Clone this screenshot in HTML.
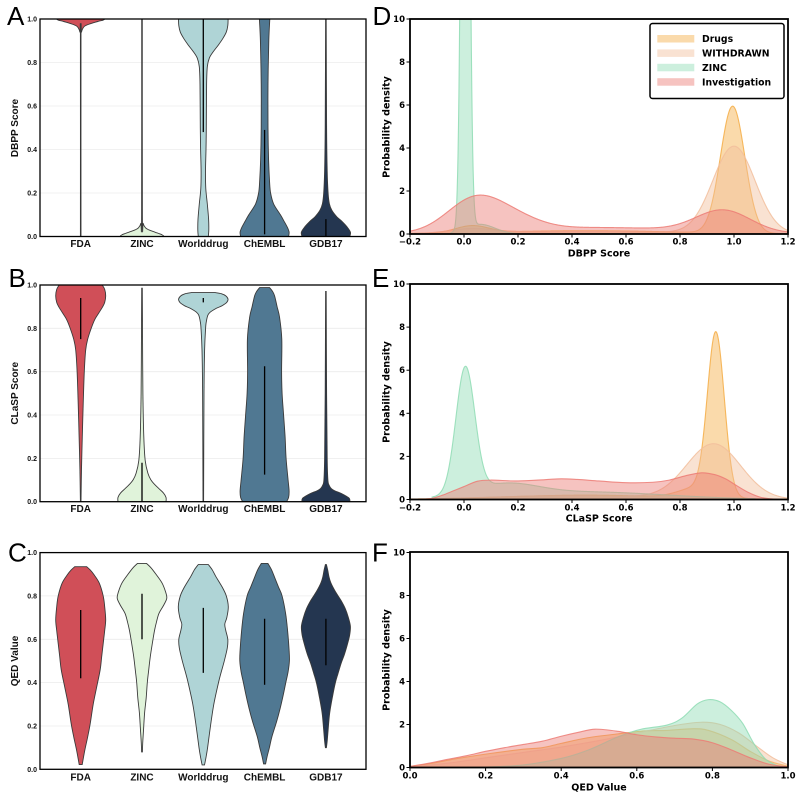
<!DOCTYPE html>
<html><head><meta charset="utf-8">
<style>
html,body{margin:0;padding:0;background:#fff;}
svg{display:block;}
.lt{font:bold 7px "Liberation Sans",Arial,sans-serif;fill:#111;}
.lx{font:bold 10px "Liberation Sans",Arial,sans-serif;fill:#111;}
.rt{font:bold 8.5px "DejaVu Sans",sans-serif;fill:#000;}
.rl{font:bold 9.5px "DejaVu Sans",sans-serif;fill:#000;}
.lg{font:bold 9.3px "DejaVu Sans",sans-serif;fill:#000;}
.let{font:26px "Liberation Sans",Arial,sans-serif;fill:#000;}
</style></head><body>
<svg id="s" width="799" height="798" viewBox="0 0 799 798" xmlns="http://www.w3.org/2000/svg">
<defs>
<clipPath id="cA"><rect x="40" y="19" width="326" height="217.5"/></clipPath>
<clipPath id="cB"><rect x="40" y="285" width="326" height="216.7"/></clipPath>
<clipPath id="cC"><rect x="40" y="552.6" width="326" height="216.7"/></clipPath>
<clipPath id="cD"><rect x="410" y="19" width="378" height="215"/></clipPath>
<clipPath id="cE"><rect x="410" y="284" width="378" height="215.5"/></clipPath>
<clipPath id="cF"><rect x="410" y="552" width="378" height="215.5"/></clipPath>
</defs>
<rect x="0" y="0" width="799" height="798" fill="#fff"/>
<g stroke="#ececec" stroke-width="0.8">
<line x1="40" x2="366" y1="193" y2="193"/><line x1="40" x2="366" y1="149.5" y2="149.5"/><line x1="40" x2="366" y1="106" y2="106"/><line x1="40" x2="366" y1="62.5" y2="62.5"/>
<line x1="40" x2="366" y1="458.4" y2="458.4"/><line x1="40" x2="366" y1="415" y2="415"/><line x1="40" x2="366" y1="371.7" y2="371.7"/><line x1="40" x2="366" y1="328.3" y2="328.3"/>
<line x1="40" x2="366" y1="726" y2="726"/><line x1="40" x2="366" y1="682.6" y2="682.6"/><line x1="40" x2="366" y1="639.3" y2="639.3"/><line x1="40" x2="366" y1="595.9" y2="595.9"/>
</g>
<g id="plots"></g>
<g fill="none" stroke="#000" stroke-width="1.3">
<rect x="40" y="19" width="326" height="217.5"/>
<rect x="40" y="285" width="326" height="216.7"/>
<rect x="40" y="552.6" width="326" height="216.7"/>
</g>
<g fill="none" stroke="#000" stroke-width="1.8">
<rect x="410" y="19" width="378" height="215"/>
<rect x="410" y="284" width="378" height="215.5"/>
<rect x="410" y="552" width="378" height="215.5"/>
</g>
<g stroke="#000" stroke-width="1">
<line x1="406.5" x2="410" y1="234" y2="234"/><line x1="406.5" x2="410" y1="191" y2="191"/><line x1="406.5" x2="410" y1="148" y2="148"/><line x1="406.5" x2="410" y1="105" y2="105"/><line x1="406.5" x2="410" y1="62" y2="62"/><line x1="406.5" x2="410" y1="19" y2="19"/>
<line x1="406.5" x2="410" y1="499.5" y2="499.5"/><line x1="406.5" x2="410" y1="456.4" y2="456.4"/><line x1="406.5" x2="410" y1="413.3" y2="413.3"/><line x1="406.5" x2="410" y1="370.2" y2="370.2"/><line x1="406.5" x2="410" y1="327.1" y2="327.1"/><line x1="406.5" x2="410" y1="284" y2="284"/>
<line x1="406.5" x2="410" y1="767.5" y2="767.5"/><line x1="406.5" x2="410" y1="724.5" y2="724.5"/><line x1="406.5" x2="410" y1="681.5" y2="681.5"/><line x1="406.5" x2="410" y1="638.5" y2="638.5"/><line x1="406.5" x2="410" y1="595.5" y2="595.5"/><line x1="406.5" x2="410" y1="552.5" y2="552.5"/>
<line x1="410" x2="410" y1="234" y2="237.5"/><line x1="464" x2="464" y1="234" y2="237.5"/><line x1="518" x2="518" y1="234" y2="237.5"/><line x1="572" x2="572" y1="234" y2="237.5"/><line x1="626" x2="626" y1="234" y2="237.5"/><line x1="680" x2="680" y1="234" y2="237.5"/><line x1="734" x2="734" y1="234" y2="237.5"/><line x1="788" x2="788" y1="234" y2="237.5"/>
<line x1="410" x2="410" y1="499.5" y2="503"/><line x1="464" x2="464" y1="499.5" y2="503"/><line x1="518" x2="518" y1="499.5" y2="503"/><line x1="572" x2="572" y1="499.5" y2="503"/><line x1="626" x2="626" y1="499.5" y2="503"/><line x1="680" x2="680" y1="499.5" y2="503"/><line x1="734" x2="734" y1="499.5" y2="503"/><line x1="788" x2="788" y1="499.5" y2="503"/>
<line x1="410" x2="410" y1="767.5" y2="771"/><line x1="485.6" x2="485.6" y1="767.5" y2="771"/><line x1="561.2" x2="561.2" y1="767.5" y2="771"/><line x1="636.8" x2="636.8" y1="767.5" y2="771"/><line x1="712.4" x2="712.4" y1="767.5" y2="771"/><line x1="788" x2="788" y1="767.5" y2="771"/>
</g>
<g class="lt" text-anchor="end">
<text x="37" y="239">0.0</text><text x="37" y="195.5">0.2</text><text x="37" y="152">0.4</text><text x="37" y="108.5">0.6</text><text x="37" y="65">0.8</text><text x="37" y="21.5">1.0</text>
<text x="37" y="504.2">0.0</text><text x="37" y="460.9">0.2</text><text x="37" y="417.5">0.4</text><text x="37" y="374.2">0.6</text><text x="37" y="330.8">0.8</text><text x="37" y="287.5">1.0</text>
<text x="37" y="771.8">0.0</text><text x="37" y="728.5">0.2</text><text x="37" y="685.1">0.4</text><text x="37" y="641.8">0.6</text><text x="37" y="598.4">0.8</text><text x="37" y="555.1">1.0</text>
</g>
<g class="lx" text-anchor="middle">
<text x="80.7" y="247">FDA</text><text x="142" y="247">ZINC</text><text x="203.3" y="247">Worlddrug</text><text x="264.6" y="247">ChEMBL</text><text x="325.9" y="247">GDB17</text>
<text x="80.7" y="512">FDA</text><text x="142" y="512">ZINC</text><text x="203.3" y="512">Worlddrug</text><text x="264.6" y="512">ChEMBL</text><text x="325.9" y="512">GDB17</text>
<text x="80.7" y="780.5">FDA</text><text x="142" y="780.5">ZINC</text><text x="203.3" y="780.5">Worlddrug</text><text x="264.6" y="780.5">ChEMBL</text><text x="325.9" y="780.5">GDB17</text>
<text transform="translate(18,128) rotate(-90)">DBPP Score</text>
<text transform="translate(18,393.3) rotate(-90)">CLaSP Score</text>
<text transform="translate(18,661) rotate(-90)">QED Value</text>
</g>
<g class="rt" text-anchor="end">
<text x="405" y="237">0</text><text x="405" y="194">2</text><text x="405" y="151">4</text><text x="405" y="108">6</text><text x="405" y="65">8</text><text x="405" y="22">10</text>
<text x="405" y="502.5">0</text><text x="405" y="459.4">2</text><text x="405" y="416.3">4</text><text x="405" y="373.2">6</text><text x="405" y="330.1">8</text><text x="405" y="287">10</text>
<text x="405" y="770.5">0</text><text x="405" y="727.5">2</text><text x="405" y="684.5">4</text><text x="405" y="641.5">6</text><text x="405" y="598.5">8</text><text x="405" y="555.5">10</text>
</g>
<g class="rt" text-anchor="middle">
<text x="410" y="244.5">−0.2</text><text x="464" y="244.5">0.0</text><text x="518" y="244.5">0.2</text><text x="572" y="244.5">0.4</text><text x="626" y="244.5">0.6</text><text x="680" y="244.5">0.8</text><text x="734" y="244.5">1.0</text><text x="788" y="244.5">1.2</text>
<text x="410" y="510.5">−0.2</text><text x="464" y="510.5">0.0</text><text x="518" y="510.5">0.2</text><text x="572" y="510.5">0.4</text><text x="626" y="510.5">0.6</text><text x="680" y="510.5">0.8</text><text x="734" y="510.5">1.0</text><text x="788" y="510.5">1.2</text>
<text x="410" y="778.5">0.0</text><text x="485.6" y="778.5">0.2</text><text x="561.2" y="778.5">0.4</text><text x="636.8" y="778.5">0.6</text><text x="712.4" y="778.5">0.8</text><text x="788" y="778.5">1.0</text>
</g>
<g class="rl" text-anchor="middle">
<text x="599" y="256.5">DBPP Score</text>
<text x="599" y="521.5">CLaSP Score</text>
<text x="599" y="790.5">QED Value</text>
<text transform="translate(389.5,127) rotate(-90)">Probability density</text>
<text transform="translate(389.5,392) rotate(-90)">Probability density</text>
<text transform="translate(389.5,660) rotate(-90)">Probability density</text>
</g>
<g class="let">
<text x="7" y="25">A</text><text x="8.5" y="287">B</text><text x="8" y="561.5">C</text>
<text x="372.5" y="25">D</text><text x="372" y="287">E</text><text x="372" y="561.5">F</text>
</g>
<rect x="650" y="23.5" width="134" height="75" rx="2.5" fill="#fff" stroke="#000" stroke-width="1.5"/>
<rect x="657.3" y="35" width="37" height="7.5" fill="#f5ad45" fill-opacity="0.45"/>
<rect x="657.3" y="49.4" width="37" height="7.5" fill="#f2be9c" fill-opacity="0.45"/>
<rect x="657.3" y="63.8" width="37" height="7.5" fill="#8fdcb4" fill-opacity="0.45"/>
<rect x="657.3" y="78.2" width="37" height="7.5" fill="#ec7b74" fill-opacity="0.45"/>
<g class="lg">
<text x="702" y="42.2">Drugs</text>
<text x="702" y="56.6">WITHDRAWN</text>
<text x="702" y="71">ZINC</text>
<text x="702" y="85.4">Investigation</text>
</g>
</svg>
<script>
(function(){
const NS='http://www.w3.org/2000/svg';
const S=document.getElementById('plots');
function el(t,a,p){const e=document.createElementNS(NS,t);for(const k in a)e.setAttribute(k,a[k]);(p||S).appendChild(e);return e;}
const f2=p=>p[0].toFixed(2)+','+p[1].toFixed(2);
function cr(p,start){let d=(start?'M':'L')+f2(p[0]);for(let i=0;i<p.length-1;i++){const p0=p[i>0?i-1:i],p1=p[i],p2=p[i+1],p3=p[i+2<p.length?i+2:i+1];d+=' C'+f2([p1[0]+(p2[0]-p0[0])/6,p1[1]+(p2[1]-p0[1])/6])+' '+f2([p2[0]-(p3[0]-p1[0])/6,p2[1]-(p3[1]-p1[1])/6])+' '+f2(p2);}return d;}
const CX=[80.7,142,203.3,264.6,325.9];
const VC=['#d04f58','#e0f3da','#afd4d6','#507892','#243650'];
function violins(py,clip,data){
 const g=el('g',{'clip-path':'url(#'+clip+')'});
 data.forEach((d,i)=>{
  const pts=d[0].slice().sort((a,b)=>b[0]-a[0]);
  const R=pts.map(q=>[CX[i]+q[1],py(q[0])]);
  const L=pts.slice().reverse().map(q=>[CX[i]-q[1],py(q[0])]);
  el('path',{d:cr(R,true)+' '+cr(L,false)+' Z',fill:VC[i],stroke:'#3a3a3a','stroke-width':0.9},g);
  if(d[1]) el('line',{x1:CX[i],x2:CX[i],y1:py(d[1][0]),y2:py(d[1][1]),stroke:'#000','stroke-width':1.3},g);
 });
}
violins(v=>236.5-v*217.5,'cA',[
 [[[1.04,24],[1.0,24],[0.99,18],[0.98,11],[0.97,5],[0.96,2.5],[0.94,0.8],[0.9,0.3],[0,0.3]],null],
 [[[1.0,0.3],[0.1,0.4],[0.06,1.2],[0.04,3.5],[0.03,7],[0.02,13],[0.01,19],[0,22],[-0.03,23]],null],
 [[[1.04,24.8],[1.0,24.8],[0.97,24.5],[0.94,23],[0.91,19.5],[0.88,15],[0.85,10],[0.82,6],[0.78,4],[0.7,3.3],[0.5,3],[0.4,2.7],[0.3,2.2],[0.22,2.5],[0.15,4],[0.08,5.3],[0.03,5.5],[0,5]],[0.48,1.0]],
 [[[1.04,5.4],[1,5.2],[0.9,4.2],[0.7,3.4],[0.5,3.4],[0.35,4],[0.25,5],[0.2,6],[0.15,9],[0.1,15.8],[0.07,19.5],[0.04,23],[0.02,24.5],[0,24],[-0.03,23]],[0.01,0.49]],
 [[[1,0.3],[0.5,0.7],[0.3,1.3],[0.2,2.2],[0.15,3.5],[0.12,6],[0.09,11],[0.07,16],[0.045,21],[0.02,24.5],[0,24],[-0.03,23]],[0,0.08]]
]);
violins(v=>501.7-v*216.7,'cB',[
 [[[1.0,21.5],[0.98,24],[0.95,25],[0.92,24],[0.9,22],[0.87,18],[0.84,14],[0.8,10.5],[0.75,7],[0.7,5],[0.6,3.6],[0.45,2.5],[0.3,1.6],[0.15,0.8],[0,0.3]],[0.75,0.94]],
 [[[0.985,0.3],[0.8,0.5],[0.5,0.9],[0.3,1.8],[0.19,3.2],[0.13,6],[0.1,9],[0.08,12.5],[0.06,17],[0.04,21.5],[0.02,24],[0,24],[-0.03,23]],[0,0.18]],
 [[[0.965,12],[0.96,18],[0.95,22.5],[0.935,24.7],[0.92,23.5],[0.905,19],[0.89,12],[0.875,7],[0.86,4.5],[0.83,3],[0.8,2.3],[0.7,1.3],[0.5,0.7],[0,0.3]],[0.92,0.94]],
 [[[0.988,5],[0.97,8],[0.95,10],[0.9,12.5],[0.85,15],[0.75,17.2],[0.6,17],[0.5,17.5],[0.4,19],[0.3,20.5],[0.2,21.5],[0.1,23.5],[0.05,24.5],[0.02,24],[0,22]],[0.125,0.625]],
 [[[0.97,0.3],[0.5,0.7],[0.2,1.3],[0.1,2],[0.075,3.3],[0.06,5.5],[0.05,9],[0.038,15.5],[0.025,20.5],[0.015,23.5],[0,24],[-0.03,23]],null]
]);
violins(v=>769.3-v*216.7,'cC',[
 [[[0.935,6],[0.92,9.5],[0.9,13],[0.86,18.5],[0.8,22.5],[0.75,24],[0.69,25],[0.64,24],[0.6,23],[0.52,21],[0.46,19.5],[0.38,16],[0.3,12.5],[0.21,9.5],[0.15,7],[0.09,4.2],[0.04,2.2],[0.022,1.5]],[0.42,0.735]],
 [[[0.95,4.5],[0.93,9],[0.9,14],[0.86,20],[0.82,23.5],[0.79,24.8],[0.76,22],[0.72,17],[0.68,14.5],[0.64,12.5],[0.58,10.3],[0.52,8.3],[0.45,6.5],[0.4,5.3],[0.33,4.2],[0.26,2.6],[0.18,1.5],[0.12,0.7],[0.08,0.4]],[0.6,0.81]],
 [[[0.945,5],[0.92,9],[0.89,12.5],[0.84,19],[0.8,23],[0.75,25],[0.7,23.5],[0.67,21.5],[0.64,22.5],[0.6,24.5],[0.56,24],[0.5,21],[0.45,18],[0.4,15.2],[0.3,10.5],[0.2,7.2],[0.1,4.3],[0.05,2.5],[0.02,1.2]],[0.445,0.745]],
 [[[0.95,3.3],[0.92,7],[0.88,10.5],[0.84,14],[0.8,17.5],[0.72,21],[0.64,23],[0.55,24.5],[0.5,24.8],[0.45,23.5],[0.4,21.2],[0.34,18.5],[0.28,15.5],[0.22,12],[0.15,7.3],[0.1,4.8],[0.06,2.6],[0.025,1]],[0.39,0.695]],
 [[[0.945,0.5],[0.92,1.8],[0.89,3],[0.86,5],[0.82,9.5],[0.78,15],[0.74,19.5],[0.7,22.5],[0.66,24.5],[0.62,23.8],[0.58,21.7],[0.53,18.5],[0.49,15.3],[0.44,12],[0.4,9.5],[0.34,6.8],[0.26,3.8],[0.18,2.2],[0.13,1.3],[0.1,0.5]],[0.48,0.695]]
]);
function gm(c){return x=>c.reduce((s,q)=>s+q[0]*Math.exp(-(x-q[1])*(x-q[1])/(2*q[2]*q[2])),0);}
function dens(g,X,Y,fn,a,b,col){
 const n=700,pts=[];
 for(let i=0;i<=n;i++){const x=a+(b-a)*i/n;pts.push([X(x),Y(fn(x))]);}
 el('path',{d:'M'+f2([X(a),Y(0)])+' L'+pts.map(f2).join(' L')+' L'+f2([X(b),Y(0)])+' Z',fill:col,'fill-opacity':0.45},g);
 el('path',{d:'M'+pts.map(f2).join(' L'),fill:'none',stroke:col,'stroke-opacity':0.85,'stroke-width':1.1},g);
}
function densP(g,X,Y,P,col){
 const pts=P.map(q=>[X(q[0]),Y(q[1])]);
 el('path',{d:'M'+f2([pts[0][0],Y(0)])+' '+cr(pts,false)+' L'+f2([pts[pts.length-1][0],Y(0)])+' Z',fill:col,'fill-opacity':0.45},g);
 el('path',{d:cr(pts,true),fill:'none',stroke:col,'stroke-opacity':0.85,'stroke-width':1.1},g);
}
const CD='#f5ad45',CW='#f2be9c',CZ='#8fdcb4',CI='#ec7b74';
{const g=el('g',{'clip-path':'url(#cD)'});const X=x=>410+(x+0.2)*270,Y=d=>234-d*21.5;
 dens(g,X,Y,gm([[5.9,0.995,0.045],[0.32,0.03,0.06],[0.15,0.45,0.35]]),-0.2,1.2,CD);
 dens(g,X,Y,gm([[4.05,1.0,0.078],[0.2,0.03,0.08],[0.12,0.45,0.35]]),-0.2,1.2,CW);
 dens(g,X,Y,gm([[46,0.005,0.012],[0.45,0.06,0.055]]),-0.05,1.1,CZ);
 dens(g,X,Y,gm([[1.45,0.035,0.1],[0.55,0.18,0.1],[0.3,0.5,0.35],[1.0,0.96,0.1]]),-0.2,1.2,CI);
}
{const g=el('g',{'clip-path':'url(#cE)'});const X=x=>410+(x+0.2)*270,Y=d=>499.5-d*21.55;
 dens(g,X,Y,gm([[7.4,0.933,0.031],[0.5,0.87,0.07],[0.2,0.45,0.3]]),-0.2,1.2,CD);
 dens(g,X,Y,gm([[2.55,0.925,0.1],[0.18,0.4,0.3]]),-0.2,1.2,CW);
 dens(g,X,Y,gm([[5.8,0.005,0.035],[0.55,0.15,0.12],[0.35,0.45,0.3]]),-0.12,1.08,CZ);
 densP(g,X,Y,[[-0.17,0],[-0.12,0.05],[-0.08,0.2],[-0.04,0.4],[0,0.6],[0.05,0.85],[0.1,0.9],[0.2,0.86],[0.3,0.92],[0.36,0.96],[0.42,0.93],[0.5,0.86],[0.6,0.78],[0.7,0.8],[0.76,0.9],[0.82,1.1],[0.88,1.24],[0.93,1.15],[0.97,0.95],[1.0,0.72],[1.05,0.35],[1.1,0.1],[1.15,0.02],[1.2,0]],CI);
}
{const g=el('g',{'clip-path':'url(#cF)'});const X=x=>410+x*378,Y=d=>767.5-d*21.55;
 densP(g,X,Y,[[0,0.05],[0.06,0.2],[0.12,0.4],[0.2,0.62],[0.3,0.85],[0.35,0.92],[0.4,1.12],[0.47,1.38],[0.55,1.56],[0.62,1.7],[0.68,1.72],[0.75,1.8],[0.79,1.72],[0.85,1.3],[0.9,0.75],[0.95,0.3],[1.0,0.06]],CD);
 densP(g,X,Y,[[0,0.03],[0.1,0.2],[0.2,0.45],[0.3,0.7],[0.4,0.95],[0.5,1.25],[0.6,1.6],[0.7,1.95],[0.77,2.1],[0.82,2.0],[0.87,1.6],[0.92,0.95],[0.96,0.45],[1.0,0.12]],CW);
 densP(g,X,Y,[[0.1,0],[0.2,0.02],[0.3,0.12],[0.4,0.42],[0.47,0.8],[0.55,1.42],[0.61,1.77],[0.68,1.97],[0.72,2.3],[0.76,2.95],[0.79,3.15],[0.82,3.05],[0.85,2.65],[0.88,2.05],[0.91,1.1],[0.94,0.4],[0.97,0.1],[1.0,0]],CZ);
 densP(g,X,Y,[[0,0.05],[0.05,0.2],[0.1,0.38],[0.15,0.55],[0.2,0.75],[0.25,0.92],[0.3,1.07],[0.35,1.22],[0.4,1.45],[0.45,1.65],[0.49,1.78],[0.55,1.68],[0.6,1.52],[0.65,1.42],[0.7,1.36],[0.75,1.32],[0.8,1.15],[0.85,0.82],[0.9,0.45],[0.95,0.15],[1.0,0.03]],CI);
}
})();
</script>
</body></html>
